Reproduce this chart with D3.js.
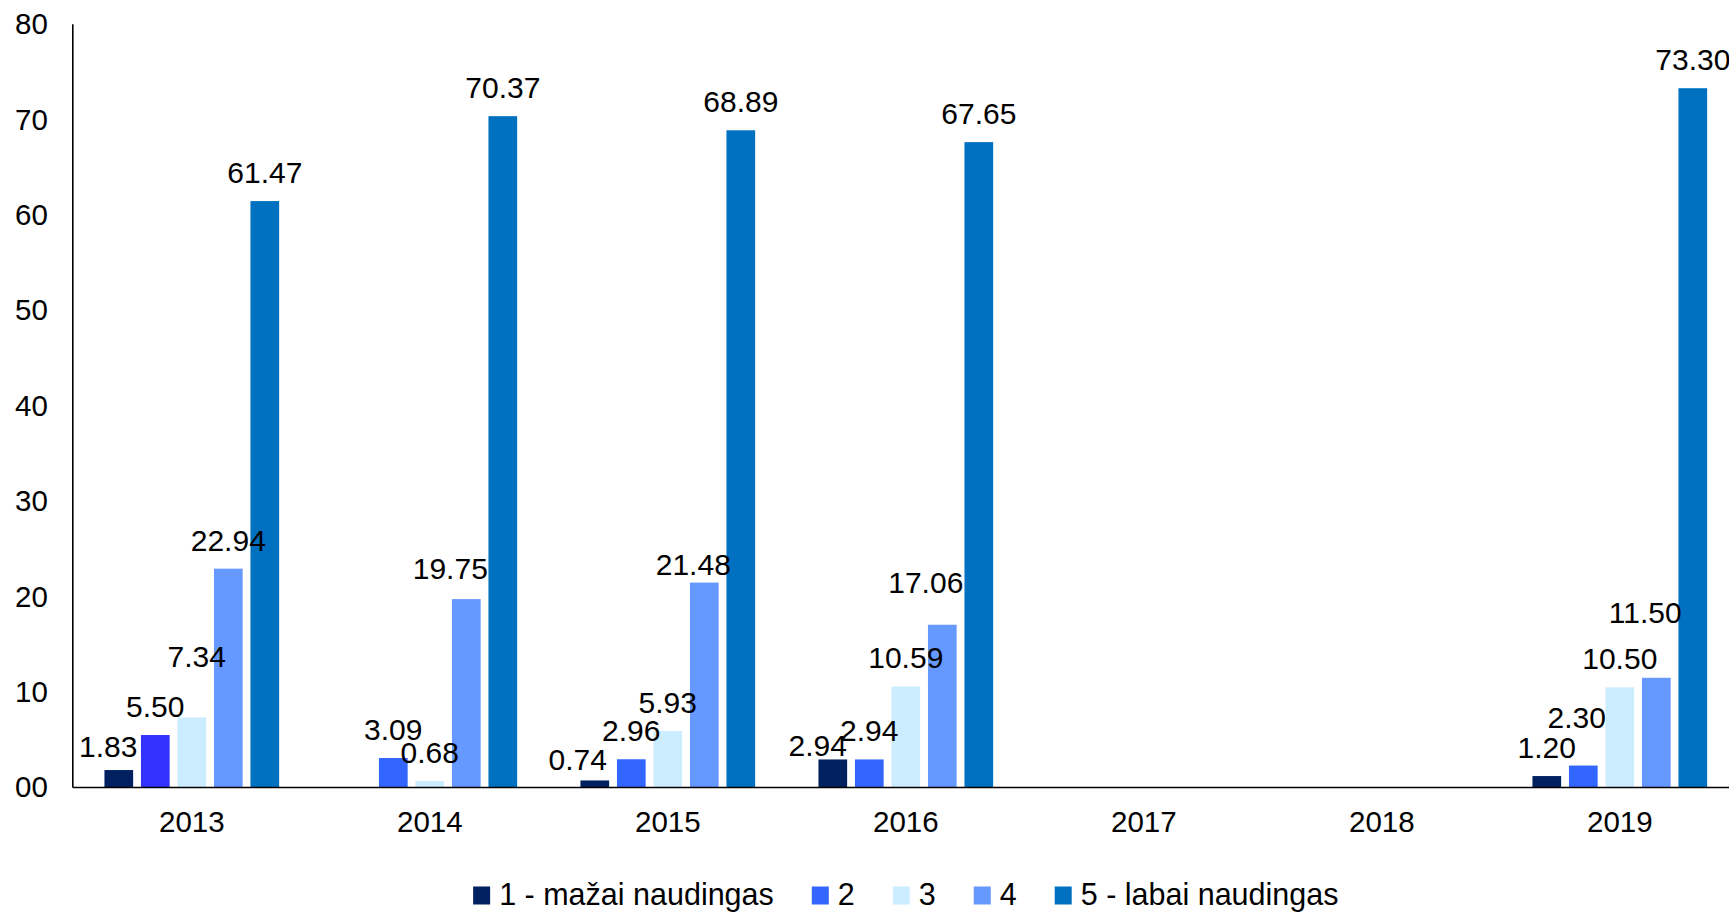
<!DOCTYPE html>
<html>
<head>
<meta charset="utf-8">
<script src="https://cdn.jsdelivr.net/npm/d3@7"></script>
<style>
  html, body { margin: 0; padding: 0; background: #ffffff; }
  svg { display: block; }
  text { font-family: "Liberation Sans", Arial, sans-serif; fill: #000; }
</style>
</head>
<body>
<svg id="chart" width="1729" height="913"></svg>
<script>
// ---------- data ----------
const years = ["2013", "2014", "2015", "2016", "2017", "2018", "2019"];
const seriesNames = ["1 - mažai naudingas", "2", "3", "4", "5 - labai naudingas"];
const s1 = [1.83, null, 0.74, 2.94, null, null, 1.20];
const s2 = [5.50, 3.09, 2.96, 2.94, null, null, 2.30];
const s3 = [7.34, 0.68, 5.93, 10.59, null, null, 10.50];
const s4 = [22.94, 19.75, 21.48, 17.06, null, null, 11.50];
const s5 = [61.47, 70.37, 68.89, 67.65, null, null, 73.30];
const yTickValues = [0, 10, 20, 30, 40, 50, 60, 70, 80];
const yTickLabels = ["00", "10", "20", "30", "40", "50", "60", "70", "80"];

// ---------- styles / layout (not data) ----------
const seriesColors = ["#002060", "#3366FF", "#CCECFF", "#6699FF", "#0070C0"];
// individual bar colour override: 2013, series 2
const colorOverrides = [{ year: "2013", series: 1, color: "#3333FF" }];
// manually moved data labels [year, series index, dx, extra lift]
const labelNudges = [
  ["2013", 0, -10.5, -5], ["2013", 2, 5, 32],
  ["2014", 3, -16, 2],
  ["2015", 0, -17, -7.5], ["2015", 3, -11, -10.5],
  ["2016", 0, -15, -15], ["2016", 3, -16.5, 13.5],
  ["2019", 1, -6.5, 19.5], ["2019", 3, -11, 37]
];

const allSeries = [s1, s2, s3, s4, s5];
const W = 1729, H = 913;
const plot = { left: 72.8, right: 1738.8, top: 24.3, bottom: 787.5 };

const svg = d3.select("#chart");
svg.append("rect").attr("width", W).attr("height", H).attr("fill", "#fff");

const x0 = d3.scaleBand().domain(years).range([plot.left, plot.right]).paddingInner(0).paddingOuter(0);
const x1 = d3.scaleBand().domain(d3.range(seriesNames.length)).range([0, x0.bandwidth()])
  .paddingInner(0.214).paddingOuter(0.867);
const y = d3.scaleLinear().domain([0, 80]).range([plot.bottom, plot.top]);

// flatten records
const records = [];
years.forEach((yr, i) => {
  allSeries.forEach((s, j) => {
    if (s[i] !== null && s[i] !== undefined) records.push({ year: yr, series: j, value: s[i] });
  });
});

function barColor(d) {
  const o = colorOverrides.find(c => c.year === d.year && c.series === d.series);
  return o ? o.color : seriesColors[d.series];
}

// bars
svg.append("g").selectAll("rect").data(records).join("rect")
  .attr("x", d => x0(d.year) + x1(d.series))
  .attr("width", x1.bandwidth())
  .attr("y", d => y(d.value))
  .attr("height", d => y(0) - y(d.value))
  .attr("fill", d => barColor(d));

// data labels
svg.append("g").selectAll("text").data(records).join("text")
  .attr("x", d => {
    const n = labelNudges.find(k => k[0] === d.year && k[1] === d.series);
    return x0(d.year) + x1(d.series) + x1.bandwidth() / 2 + (n ? n[2] : 0);
  })
  .attr("y", d => {
    const n = labelNudges.find(k => k[0] === d.year && k[1] === d.series);
    return y(d.value) - 18 - (n ? n[3] : 0);
  })
  .attr("text-anchor", "middle")
  .attr("font-size", 30)
  .text(d => d.value.toFixed(2));

// y axis
const yAxis = d3.axisLeft(y).tickValues(yTickValues).tickSize(0).tickPadding(25)
  .tickFormat((d, i) => yTickLabels[i]);
const gy = svg.append("g").attr("transform", `translate(${plot.left},0)`).call(yAxis);
gy.select(".domain").remove();
gy.selectAll("text").attr("font-size", 29.5).attr("font-family", "Liberation Sans, Arial, sans-serif").attr("fill", "#000");
svg.append("line").attr("x1", plot.left).attr("x2", plot.left).attr("y1", y(80)).attr("y2", y(0))
  .attr("stroke", "#000").attr("stroke-width", 1.6);

// x axis
const xAxis = d3.axisBottom(x0).tickSize(0).tickPadding(24);
const gx = svg.append("g").attr("transform", `translate(0,${plot.bottom})`).call(xAxis);
gx.select(".domain").remove();
gx.selectAll("text").attr("font-size", 29.5).attr("font-family", "Liberation Sans, Arial, sans-serif").attr("fill", "#000");
svg.append("line").attr("x1", plot.left).attr("x2", W).attr("y1", y(0)).attr("y2", y(0))
  .attr("stroke", "#000").attr("stroke-width", 1.6);

// legend
const legend = svg.append("g");
const items = legend.selectAll("g").data(seriesNames).join("g");
items.append("rect").attr("width", 17).attr("height", 18).attr("y", -18.5)
  .attr("fill", (d, i) => seriesColors[i]);
items.append("text").attr("x", 26).attr("y", 0).attr("font-size", 30.5).text(d => d);
let cursor = 0;
const offsets = [];
const gap = 38;
items.each(function (d, i) {
  const tw = d3.select(this).select("text").node().getComputedTextLength();
  offsets.push(cursor);
  cursor += 26 + tw + gap;
});
const totalW = cursor - gap;
const legendCenter = (plot.left + plot.right) / 2;
const startX = legendCenter - totalW / 2;
items.attr("transform", (d, i) => `translate(${startX + offsets[i]},905)`);
</script>
</body>
</html>
